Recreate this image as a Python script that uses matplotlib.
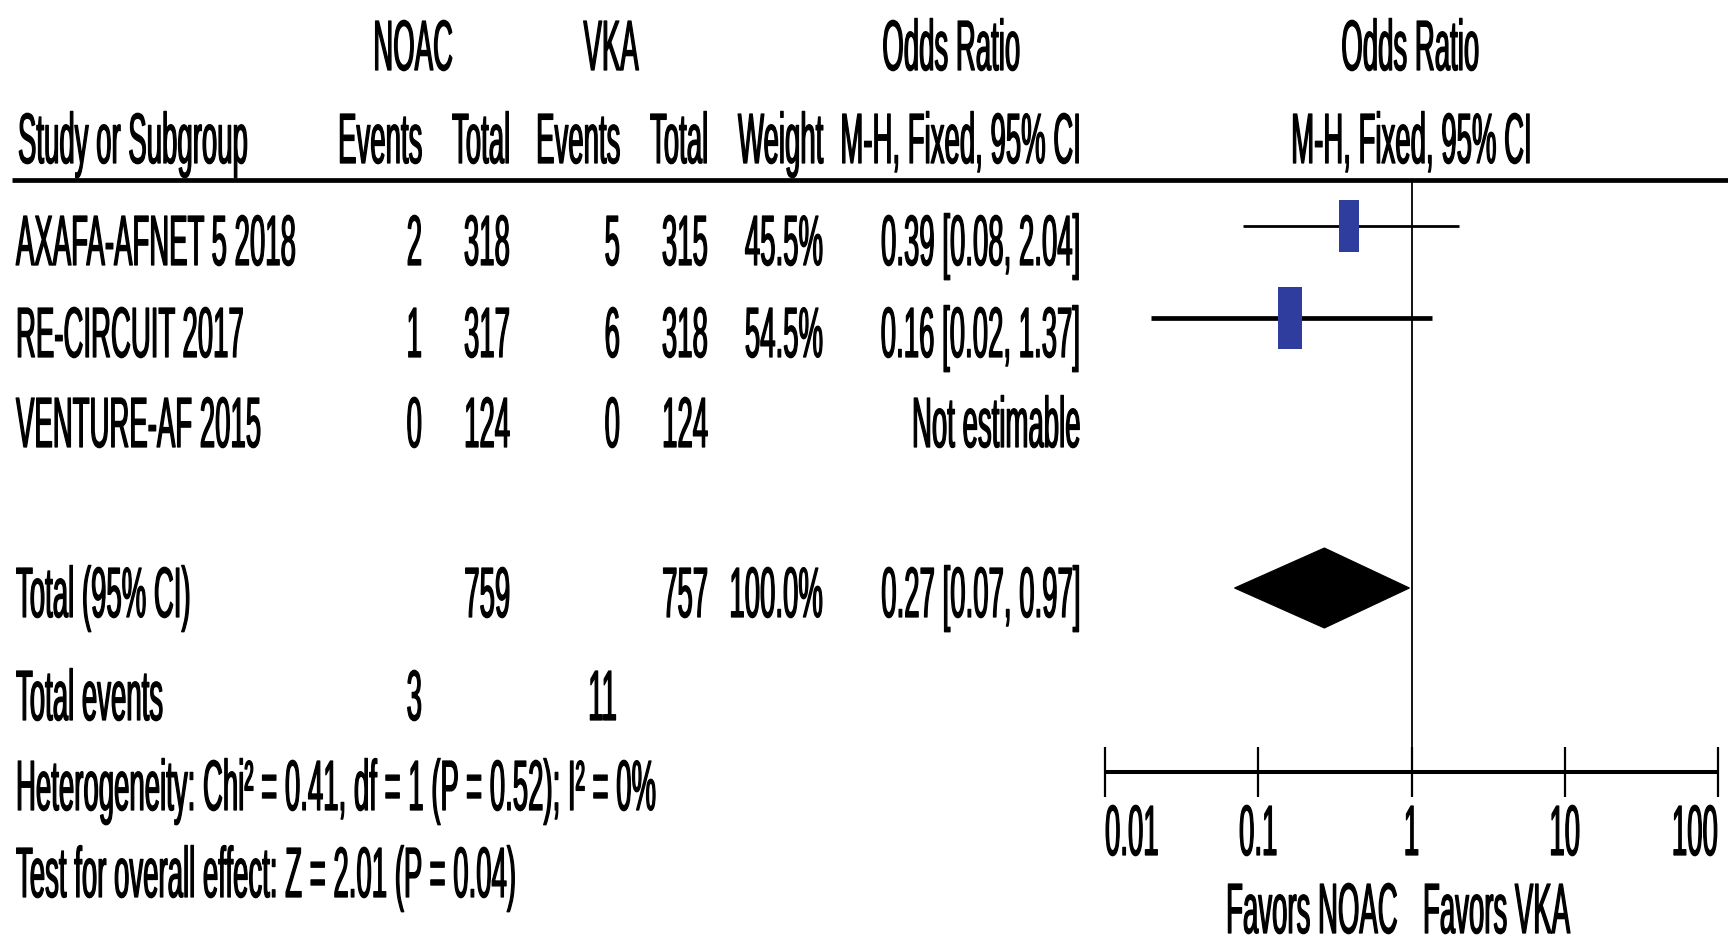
import matplotlib
matplotlib.use("Agg")
import matplotlib.pyplot as plt
from matplotlib import patheffects
from matplotlib.path import Path
from matplotlib.patches import Polygon
from matplotlib.transforms import Affine2D

# ---- data ----
studies = ["AXAFA-AFNET 5 2018", "RE-CIRCUIT 2017", "VENTURE-AF 2015"]
noac_events = [2, 1, 0]
noac_total = [318, 317, 124]
vka_events = [5, 6, 0]
vka_total = [315, 318, 124]
weights = [45.5, 54.5, None]
or_est = [0.39, 0.16, None]
ci_lo = [0.08, 0.02, None]
ci_hi = [2.04, 1.37, None]

total_or, total_lo, total_hi = 0.27, 0.07, 0.97
noac_sum, vka_sum = 759, 757
noac_ev_sum, vka_ev_sum = 3, 11
heterogeneity = "Heterogeneity: Chi² = 0.41, df = 1 (P = 0.52); I² = 0%"
overall = "Test for overall effect: Z = 2.01 (P = 0.04)"

xticks = [0.01, 0.1, 1, 10, 100]
xtick_labels = ["0.01", "0.1", "1", "10", "100"]

# ---- layout (pixels of the 1728x940 picture) ----
W, H = 1728, 940
FONT = "Liberation Sans"
CAP_PX = 49          # cap height of the tall, narrow text in the original


class VStretch(patheffects.AbstractPathEffect):
    """draw text taller than wide (the original is squeezed horizontally),
    with a thin outline so it looks as heavy as the blurry original"""

    def __init__(self, sy, lw=0.9):
        super().__init__()
        self.sy = sy
        self.lw = lw

    def draw_path(self, renderer, gc, tpath, affine, rgbFace=None):
        gc0 = renderer.new_gc()
        gc0.copy_properties(gc)
        gc0.set_linewidth(self.lw)
        if rgbFace is not None:
            gc0.set_foreground(rgbFace)
        renderer.draw_path(gc0, tpath, Affine2D().scale(1, self.sy) + affine, rgbFace)
        gc0.restore()


fig = plt.figure(figsize=(W / 100, H / 100), dpi=100)
renderer = fig.canvas.get_renderer()
probe = fig.text(0, 0, heterogeneity, fontsize=20, family=FONT)
FS = 20 * 640 / probe.get_window_extent(renderer).width
probe.remove()
SY = CAP_PX / (0.688 * FS * 100 / 72)
STRETCH = [VStretch(SY)]

ax = fig.add_axes([0, 0, 1, 1])
ax.set_xlim(0, W)
ax.set_ylim(H, 0)
ax.axis("off")


def txt(x, y, s, ha="left"):
    ax.text(x, y, s, ha=ha, va="baseline", fontsize=FS, family=FONT, color="black",
            path_effects=STRETCH)


# column right edges and text baselines
col_x = [422, 510, 620, 708, 823, 1080]
head1_y, head2_y = 70, 163
row_y = [265, 357, 447]
total_y, events_y, het_y, test_y = 617, 720, 810, 897
mark_y = [226, 318]
diamond_y = 588

# headers
txt(413, head1_y, "NOAC", "center")
txt(611, head1_y, "VKA", "center")
txt(951, head1_y, "Odds Ratio", "center")
txt(1410, head1_y, "Odds Ratio", "center")
txt(18, head2_y, "Study or Subgroup")
for x, s in zip(col_x, ["Events", "Total", "Events", "Total", "Weight", "M-H, Fixed, 95% CI"]):
    txt(x, head2_y, s, "right")
txt(1411, head2_y, "M-H, Fixed, 95% CI", "center")
ax.plot([12, W], [180, 180], color="black", lw=3.4, solid_capstyle="butt")

# study rows
for i, name in enumerate(studies):
    y = row_y[i]
    txt(16, y, name)
    txt(col_x[0], y, str(noac_events[i]), "right")
    txt(col_x[1], y, str(noac_total[i]), "right")
    txt(col_x[2], y, str(vka_events[i]), "right")
    txt(col_x[3], y, str(vka_total[i]), "right")
    if weights[i] is not None:
        txt(col_x[4], y, f"{weights[i]:.1f}%", "right")
        txt(col_x[5], y, f"{or_est[i]:.2f} [{ci_lo[i]:.2f}, {ci_hi[i]:.2f}]", "right")
    else:
        txt(col_x[5], y, "Not estimable", "right")

# totals
txt(16, total_y, "Total (95% CI)")
txt(col_x[1], total_y, str(noac_sum), "right")
txt(col_x[3], total_y, str(vka_sum), "right")
txt(col_x[4], total_y, "100.0%", "right")
txt(col_x[5], total_y, f"{total_or:.2f} [{total_lo:.2f}, {total_hi:.2f}]", "right")
txt(16, events_y, "Total events")
txt(col_x[0], events_y, str(noac_ev_sum), "right")
txt(617, events_y, str(vka_ev_sum), "right")
txt(16, het_y, heterogeneity)
txt(16, test_y, overall)

# ---- forest panel ----
x0, x1, ytop, ybot = 1105, 1718, 180, 772
ax2 = fig.add_axes([x0 / W, (H - ybot) / H, (x1 - x0) / W, (ybot - ytop) / H])
ax2.patch.set_visible(False)
ax2.set_xscale("log")
ax2.set_xlim(0.01, 100)
ax2.set_ylim(ybot, ytop)
for side in ["left", "right", "top"]:
    ax2.spines[side].set_visible(False)
ax2.spines["bottom"].set_linewidth(2.9)
ax2.spines["bottom"].set_capstyle("butt")
ax2.set_yticks([])
ax2.set_xticks(xticks)
ax2.xaxis.set_minor_locator(matplotlib.ticker.NullLocator())
ax2.set_xticklabels(xtick_labels, fontsize=FS, family=FONT)
# baseline of the tick labels sits 83 px under the axis line
ax2.tick_params(axis="x", direction="inout", length=36, width=1.6, pad=83 * 0.72 - 18)
for lab, ha in zip(ax2.get_xticklabels(), ["left", "center", "center", "center", "right"]):
    lab.set_ha(ha)
    lab.set_va("baseline")
    lab.set_path_effects(STRETCH)
ax2.axvline(1, color="black", lw=1.3, zorder=1)

box = Path([(-0.195, -0.5), (0.195, -0.5), (0.195, 0.5), (-0.195, 0.5), (-0.195, -0.5)],
           [Path.MOVETO, Path.LINETO, Path.LINETO, Path.LINETO, Path.CLOSEPOLY])
ci_lw = [2.0, 3.4]
for i in range(len(studies)):
    if or_est[i] is None:
        continue
    y = mark_y[i]
    ax2.plot([ci_lo[i], ci_hi[i]], [y, y], color="black", lw=ci_lw[i], zorder=2,
             solid_capstyle="butt")
    ax2.plot([or_est[i]], [y], marker=box, markersize=weights[i] * 0.83,
             color="#2f3e9e", markeredgewidth=0, linestyle="none", zorder=3)

ax2.add_patch(Polygon([(total_lo, diamond_y), (total_or, diamond_y - 40),
                       (total_hi, diamond_y), (total_or, diamond_y + 40)],
                      closed=True, facecolor="black", edgecolor="black", lw=0.8, zorder=3))

txt(1397, 933, "Favors NOAC", "right")
txt(1423, 933, "Favors VKA", "left")

fig.savefig("out.png", dpi=100)
